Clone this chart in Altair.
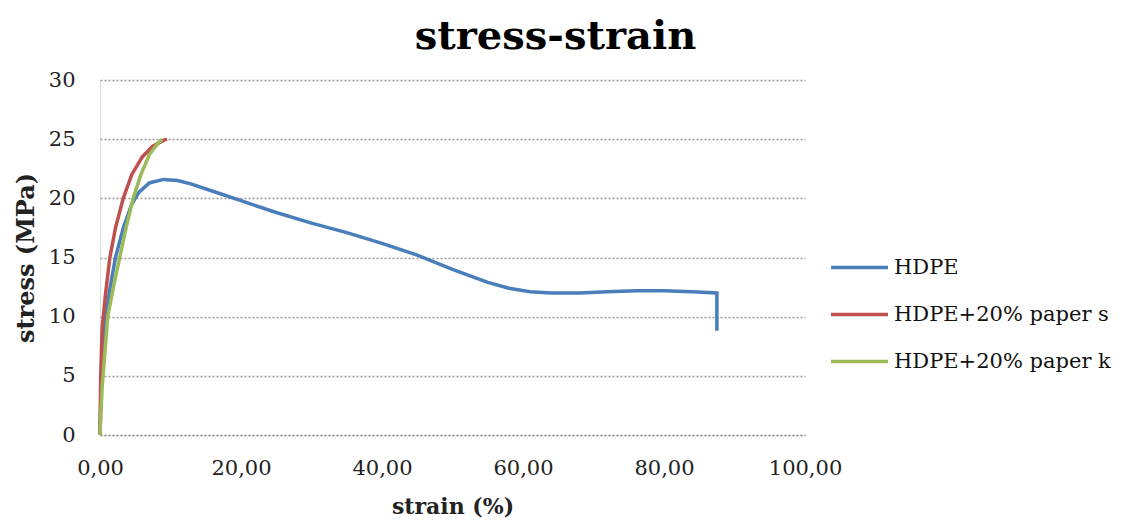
import altair as alt
import pandas as pd

hdpe_strain = [0, 0.2, 0.6, 1.3, 2.2, 3.3, 4.5, 5.5, 7.0, 9.0, 11.0, 13.0, 16.0, 20.0, 25.0, 30.0, 35.0, 40.0, 45.0, 50.0, 55.0, 58.0, 61.0, 64.0, 68.0, 72.0, 76.0, 80.0, 84.0, 87.5, 87.5]
hdpe_stress = [0, 5.0, 9.0, 12.0, 15.0, 17.5, 19.5, 20.5, 21.3, 21.6, 21.5, 21.2, 20.6, 19.8, 18.8, 17.9, 17.1, 16.2, 15.2, 14.0, 12.9, 12.4, 12.1, 12.0, 12.0, 12.1, 12.2, 12.2, 12.1, 12.0, 8.8]

ps_strain = [0, 0.1, 0.3, 0.8, 1.4, 2.2, 3.3, 4.5, 6.0, 7.5, 9.0, 9.5]
ps_stress = [0, 5.0, 9.0, 12.0, 15.0, 17.5, 20.0, 22.0, 23.5, 24.4, 24.9, 25.0]

pk_strain = [0, 0.3, 0.7, 1.1, 1.9, 2.8, 3.7, 4.7, 5.8, 7.0, 8.3, 8.8]
pk_stress = [0, 4.0, 7.0, 10.0, 12.5, 15.0, 17.5, 20.0, 22.0, 23.7, 24.7, 25.0]

series = ["HDPE", "HDPE+20% paper s", "HDPE+20% paper k"]
colors = ["#4A7EBB", "#C0504D", "#9BBB59"]

rows = []
for name, xs, ys in zip(series, [hdpe_strain, ps_strain, pk_strain], [hdpe_stress, ps_stress, pk_stress]):
    for i, (x, y) in enumerate(zip(xs, ys)):
        rows.append({"series": name, "strain": x, "stress": y, "idx": i})
df = pd.DataFrame(rows)

font = "DejaVu Serif"

chart = alt.Chart(df).mark_line(strokeWidth=3.5).encode(
    x=alt.X("strain:Q", scale=alt.Scale(domain=[0, 100], nice=False),
            axis=alt.Axis(title="strain (%)", values=[0, 20, 40, 60, 80, 100],
                          labelExpr="replace(format(datum.value, '.2f'), '.', ',')",
                          labelFlush=False, labelFontSize=21,
                          grid=False, ticks=False, domain=True, domainColor="#999999",
                          domainDash=[2, 2], domainWidth=1.5, labelPadding=22, titlePadding=18,
                          titleFontSize=22)),
    y=alt.Y("stress:Q", scale=alt.Scale(domain=[0, 30], nice=False),
            axis=alt.Axis(title="stress (MPa)", values=[0, 5, 10, 15, 20, 25, 30],
                          grid=True, gridColor="#999999", gridDash=[2, 2], gridWidth=1.5,
                          ticks=False, domain=True, domainColor="#bbbbbb", domainDash=[1, 1],
                          labelPadding=25, titlePadding=10, labelFontSize=21,
                          titleFontSize=24)),
    color=alt.Color("series:N", scale=alt.Scale(domain=series, range=colors),
                    legend=alt.Legend(title=None, orient="none", legendX=748, legendY=176,
                                      padding=0, symbolType="M-3,0H3", symbolSize=361,
                                      symbolStrokeWidth=3.5, labelLimit=400,
                                      labelFontSize=21, labelFont=font, labelColor="#111111",
                                      rowPadding=25, labelOffset=23)),
    order=alt.Order("idx:Q"),
).properties(
    width=705, height=355,
    title=alt.TitleParams("stress-strain", fontSize=40, font=font, fontWeight="bold",
                          anchor="middle", dx=103, offset=12, color="#000000"),
    autosize=alt.AutoSizeParams(type="none"),
    padding={"left": 92, "top": 72, "right": 314, "bottom": 89},
).configure_axis(
    labelFont=font, labelColor="#222222",
    titleFont=font, titleFontWeight="bold", titleColor="#222222",
).configure_view(stroke=None)

chart.save("out.html", embed_options={"renderer": "svg", "actions": False})
